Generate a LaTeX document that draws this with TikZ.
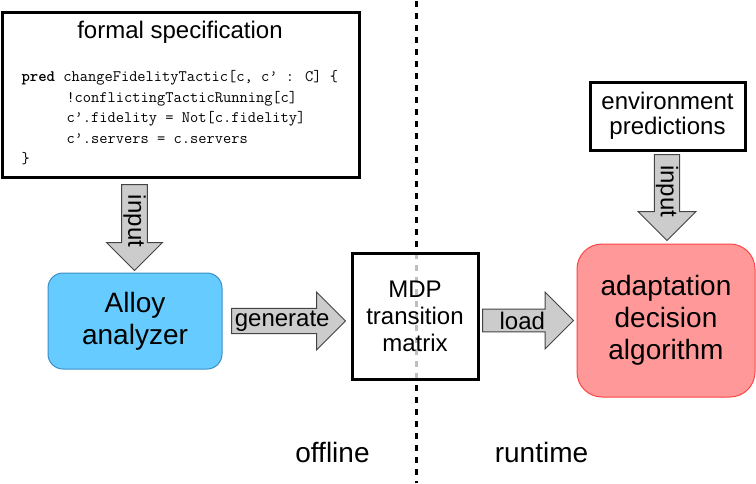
\documentclass[tikz,border=0pt]{standalone}
\usepackage{fontspec}
\setmainfont{Liberation Sans}
\usetikzlibrary{shapes.arrows}

\definecolor{alloyfill}{HTML}{66CCFF}
\definecolor{alloyline}{HTML}{3A8FC7}
\definecolor{algofill}{HTML}{FF9999}
\definecolor{algoline}{HTML}{FF4444}
\definecolor{arrowfill}{HTML}{CCCCCC}
\definecolor{arrowline}{HTML}{444444}

\tikzset{every path/.style={line width=1pt}}
\tikzset{
  plainbox/.style={draw, line width=3pt, inner sep=0pt},
  roundbox/.style={draw, inner sep=0pt, font=\fontsize{28}{32}\selectfont, align=center},
  fatarrow/.style={single arrow, draw=arrowline, fill=arrowfill, inner sep=0pt, anchor=tail,
    single arrow tip angle=90, font=\fontsize{24}{26}\selectfont},
  labeltext/.style={inner sep=0pt, align=center}
}

\begin{document}
\begin{tikzpicture}[x=1pt,y=-1pt]
\useasboundingbox (0,0) rectangle (756,483);

% offline / runtime border
\coordinate (top) at (416,1);
\coordinate (bottom) at (416,483);
\draw[line width=3pt, dash pattern=on 6pt off 6pt] (top) -- (bottom);

% formal specification
\node[plainbox, minimum width=357pt, minimum height=165pt] (spec) at (180.5,94.5) {};
\node[labeltext, font=\fontsize{24}{26}\selectfont] (spectitle) at (180,32) {formal specification};
\node[labeltext, anchor=north west, align=left, font=\ttfamily\fontsize{16}{20.5}\selectfont] (speccode) at (21,70)
  {\textbf{pred} changeFidelityTactic[c, c’ : C] \{\\
   \hspace*{45pt}!conflictingTacticRunning[c]\\
   \hspace*{45pt}c’.fidelity = Not[c.fidelity]\\
   \hspace*{45pt}c’.servers = c.servers\\
   \}};

% offline side
\node[roundbox, fill=alloyfill, draw=alloyline, rounded corners=15pt,
  minimum width=174pt, minimum height=96pt] (alloy) at (135,321) {Alloy\\analyzer};
\node[plainbox, fill=white, fill opacity=0.75, text opacity=1, align=center,
  font=\fontsize{24}{27}\selectfont, minimum width=126pt, minimum height=126pt] (mdp) at (415,316)
  {MDP\\transition\\matrix};

% runtime side
\node[plainbox, align=center, font=\fontsize{24}{25.5}\selectfont,
  minimum width=155pt, minimum height=68pt] (env) at (667.5,116) {environment\\predictions};
\node[roundbox, fill=algofill, draw=algoline, rounded corners=25pt,
  minimum width=178pt, minimum height=153pt] (algo) at (666,320.5) {adaptation\\decision\\algorithm};

% block arrows
\node[fatarrow, rotate=-90, minimum height=86pt, minimum width=56pt,
  single arrow head extend=13.5pt] (input1) at (134.5,184) {input};
\node[fatarrow, minimum height=114pt, minimum width=58pt,
  single arrow head extend=14pt] (generate) at (231,321) {generate};
\node[fatarrow, minimum height=91pt, minimum width=57pt,
  single arrow head extend=14pt] (load) at (482,320.5) {load};
\node[fatarrow, rotate=-90, minimum height=86pt, minimum width=58pt,
  single arrow head extend=15pt] (input2) at (667,154) {input};

% phases
\node[labeltext, anchor=base, font=\fontsize{28}{30}\selectfont] (offline) at (332.5,462) {offline};
\node[labeltext, anchor=base, font=\fontsize{28}{30}\selectfont] (runtime) at (541.5,462) {runtime};
\end{tikzpicture}
\end{document}
